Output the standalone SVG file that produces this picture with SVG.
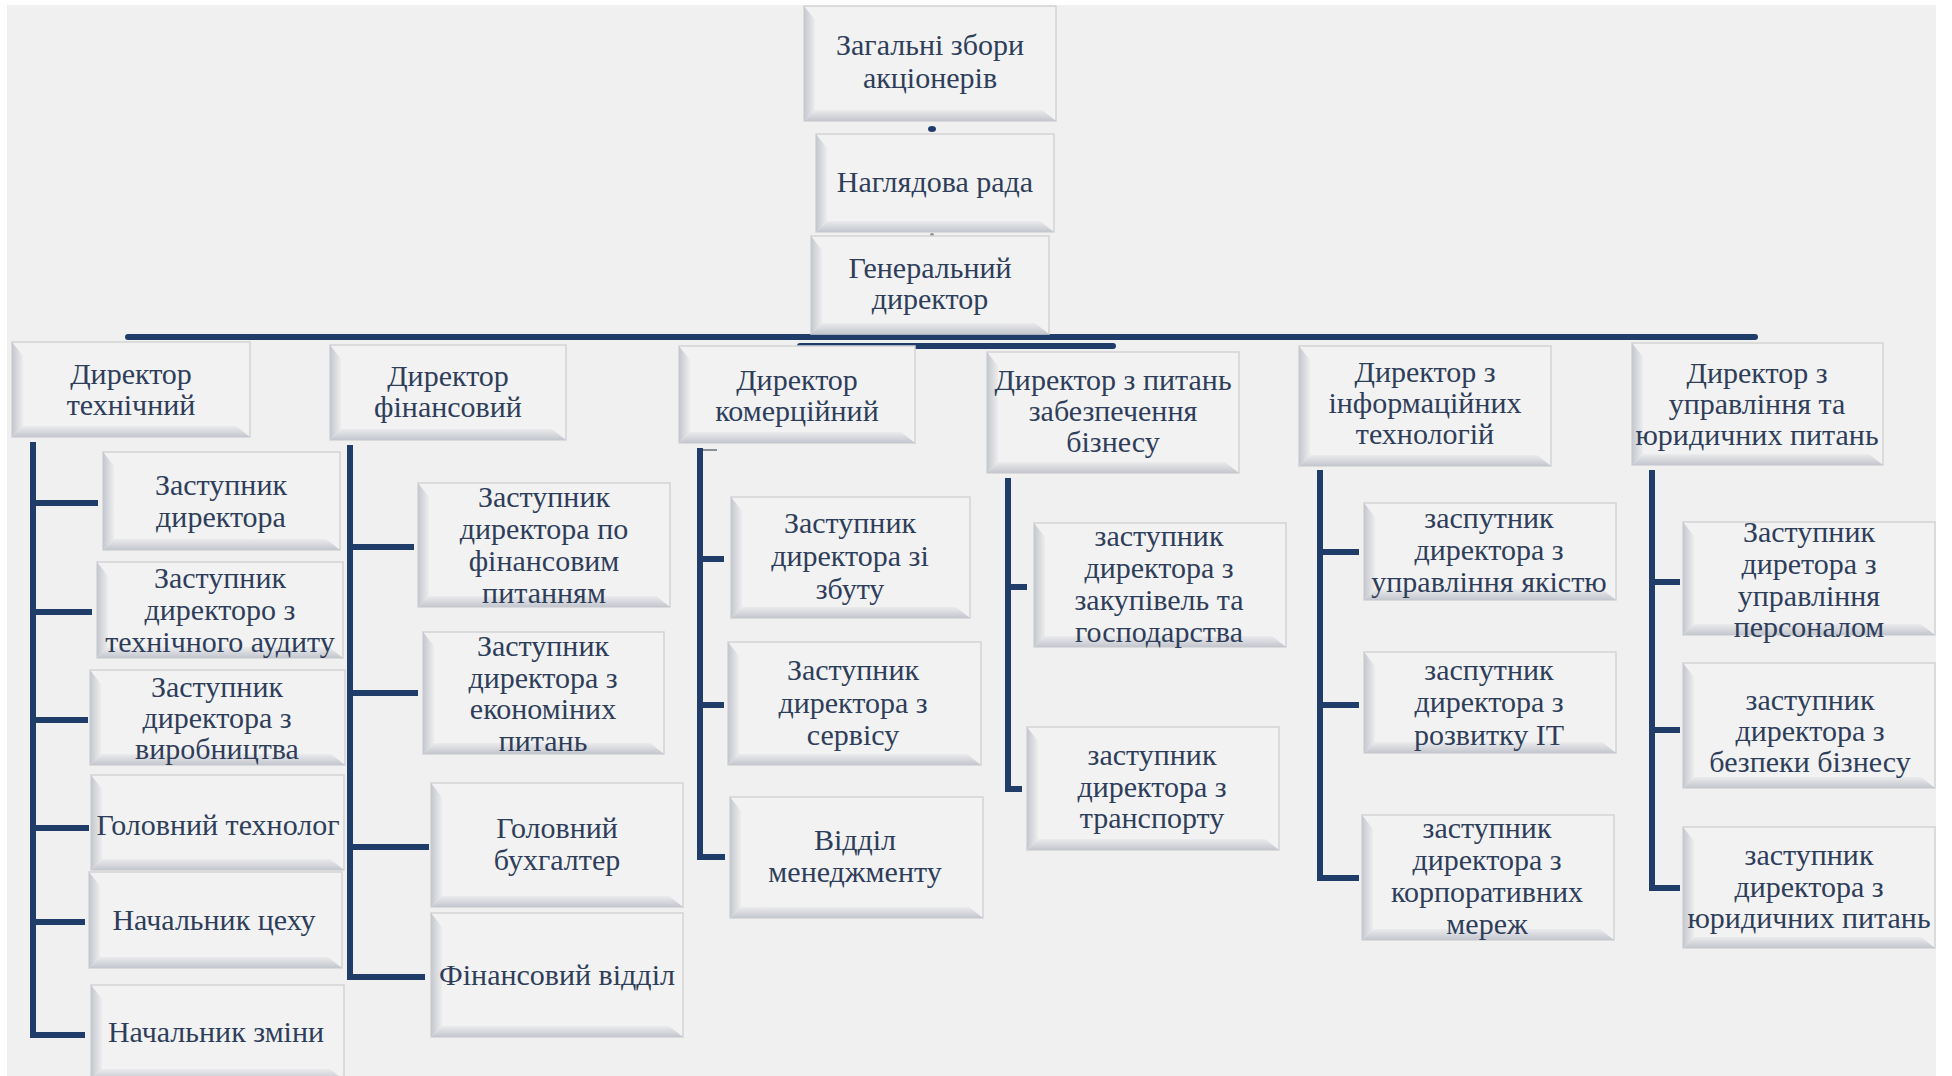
<svg xmlns="http://www.w3.org/2000/svg" width="1952" height="1076" viewBox="0 0 1952 1076">
<defs>
<linearGradient id="gL" x1="0" y1="0" x2="1" y2="0"><stop offset="0" stop-color="#c4c7cf"/><stop offset="1" stop-color="#eceded"/></linearGradient>
<linearGradient id="gB" x1="0" y1="0" x2="0" y2="1"><stop offset="0" stop-color="#ebebed"/><stop offset="1" stop-color="#c3c6ce"/></linearGradient>
<style>
.box{fill:#f2f2f2;stroke:#d3d3d3;stroke-width:1.5}
.bl{fill:url(#gL)}
.bb{fill:url(#gB)}
.t{font-family:'Liberation Serif','DejaVu Serif',serif;font-size:30px;fill:#2e3e5a;text-anchor:middle}
.ln{fill:none;stroke:#203c68;stroke-width:6;stroke-linejoin:miter;stroke-linecap:butt}
.bar{fill:none;stroke:#203c68;stroke-width:6;stroke-linecap:round}
</style>
</defs>
<rect x="0" y="0" width="1952" height="1076" fill="#ffffff"/>
<rect x="7" y="5" width="1929" height="1071" fill="#f0f0f0"/>

<g id="connectors">
<path class="bar" d="M128 337 H1755"/>
<path class="bar" d="M800 346 H1113"/>
<ellipse cx="932" cy="129" rx="4" ry="3" fill="#203c68"/>
<circle cx="932" cy="235" r="2" fill="#8a8f99"/>
<path class="ln" d="M33 442 V1035 H85 M33 503 H98 M33 612 H92 M33 720 H88 M33 828 H89 M33 922 H85"/>
<path class="ln" d="M350 445 V977 H425 M350 547 H414 M350 693 H418 M350 847 H429"/>
<path class="ln" d="M700 448 V857 H725 M700 559 H724 M700 705 H724"/>
<path d="M703 450 H717" stroke="#8a8f99" stroke-width="2" fill="none"/>
<path class="ln" d="M1008 478 V789 H1022 M1008 587 H1027"/>
<path class="ln" d="M1320 470 V878 H1359 M1320 552 H1359 M1320 705 H1359"/>
<path class="ln" d="M1652 470 V888 H1680 M1652 582 H1680 M1652 730 H1680"/>
</g>

<g id="n-zbory"><rect class="box" x="804" y="6" width="252" height="115"/><polygon class="bl" points="804,6 815,20 815,110 804,121"/><polygon class="bb" points="804,121 815,110 1042,110 1056,121"/><text class="t" x="930" y="55">Загальні збори</text><text class="t" x="930" y="88">акціонерів</text></g>
<g id="n-rada"><rect class="box" x="816" y="134" width="238" height="98"/><polygon class="bl" points="816,134 827,148 827,221 816,232"/><polygon class="bb" points="816,232 827,221 1040,221 1054,232"/><text class="t" x="935" y="192">Наглядова рада</text></g>
<g id="n-gendir"><rect class="box" x="811" y="236" width="238" height="98"/><polygon class="bl" points="811,236 822,250 822,323 811,334"/><polygon class="bb" points="811,334 822,323 1035,323 1049,334"/><text class="t" x="930" y="278">Генеральний</text><text class="t" x="930" y="309">директор</text></g>

<g id="d-tech"><rect class="box" x="12" y="342" width="238" height="95"/><polygon class="bl" points="12,342 23,356 23,426 12,437"/><polygon class="bb" points="12,437 23,426 236,426 250,437"/><text class="t" x="131" y="384">Директор</text><text class="t" x="131" y="415">технічний</text></g>
<g id="d-fin"><rect class="box" x="330" y="345" width="236" height="95"/><polygon class="bl" points="330,345 341,359 341,429 330,440"/><polygon class="bb" points="330,440 341,429 552,429 566,440"/><text class="t" x="448" y="386">Директор</text><text class="t" x="448" y="417">фінансовий</text></g>
<g id="d-kom"><rect class="box" x="679" y="346" width="236" height="97"/><polygon class="bl" points="679,346 690,360 690,432 679,443"/><polygon class="bb" points="679,443 690,432 901,432 915,443"/><text class="t" x="797" y="390">Директор</text><text class="t" x="797" y="421">комерційний</text></g>
<g id="d-biz"><rect class="box" x="987" y="352" width="252" height="121"/><polygon class="bl" points="987,352 998,366 998,462 987,473"/><polygon class="bb" points="987,473 998,462 1225,462 1239,473"/><text class="t" x="1113" y="390">Директор з питань</text><text class="t" x="1113" y="421">забезпечення</text><text class="t" x="1113" y="452">бізнесу</text></g>
<g id="d-it"><rect class="box" x="1299" y="346" width="252" height="120"/><polygon class="bl" points="1299,346 1310,360 1310,455 1299,466"/><polygon class="bb" points="1299,466 1310,455 1537,455 1551,466"/><text class="t" x="1425" y="382">Директор з</text><text class="t" x="1425" y="413">інформаційних</text><text class="t" x="1425" y="444">технологій</text></g>
<g id="d-law"><rect class="box" x="1632" y="343" width="251" height="122"/><polygon class="bl" points="1632,343 1643,357 1643,454 1632,465"/><polygon class="bb" points="1632,465 1643,454 1869,454 1883,465"/><text class="t" x="1757" y="383">Директор з</text><text class="t" x="1757" y="414">управління та</text><text class="t" x="1757" y="445">юридичних питань</text></g>

<g id="c1-zast"><rect class="box" x="103" y="452" width="237" height="98"/><polygon class="bl" points="103,452 114,466 114,539 103,550"/><polygon class="bb" points="103,550 114,539 326,539 340,550"/><text class="t" x="221" y="495">Заступник</text><text class="t" x="221" y="527">директора</text></g>
<g id="c1-audit"><rect class="box" x="97" y="562" width="246" height="96"/><polygon class="bl" points="97,562 108,576 108,647 97,658"/><polygon class="bb" points="97,658 108,647 329,647 343,658"/><text class="t" x="220" y="588">Заступник</text><text class="t" x="220" y="620">директоро з</text><text class="t" x="220" y="652">технічного аудиту</text></g>
<g id="c1-vyr"><rect class="box" x="90" y="670" width="255" height="95"/><polygon class="bl" points="90,670 101,684 101,754 90,765"/><polygon class="bb" points="90,765 101,754 331,754 345,765"/><text class="t" x="217" y="697">Заступник</text><text class="t" x="217" y="728">директора з</text><text class="t" x="217" y="759">виробництва</text></g>
<g id="c1-tehn"><rect class="box" x="91" y="775" width="253" height="95"/><polygon class="bl" points="91,775 102,789 102,859 91,870"/><polygon class="bb" points="91,870 102,859 330,859 344,870"/><text class="t" x="218" y="835">Головний технолог</text></g>
<g id="c1-tseh"><rect class="box" x="89" y="872" width="253" height="96"/><polygon class="bl" points="89,872 100,886 100,957 89,968"/><polygon class="bb" points="89,968 100,957 328,957 342,968"/><text class="t" x="214" y="930">Начальник цеху</text></g>
<g id="c1-zmin"><rect class="box" x="91" y="985" width="253" height="95"/><polygon class="bl" points="91,985 102,999 102,1069 91,1080"/><polygon class="bb" points="91,1080 102,1069 330,1069 344,1080"/><text class="t" x="216" y="1042">Начальник зміни</text></g>

<g id="c2-fin"><rect class="box" x="418" y="483" width="252" height="124"/><polygon class="bl" points="418,483 429,497 429,596 418,607"/><polygon class="bb" points="418,607 429,596 656,596 670,607"/><text class="t" x="544" y="507">Заступник</text><text class="t" x="544" y="539">директора по</text><text class="t" x="544" y="571">фінансовим</text><text class="t" x="544" y="603">питанням</text></g>
<g id="c2-ekon"><rect class="box" x="423" y="632" width="241" height="122"/><polygon class="bl" points="423,632 434,646 434,743 423,754"/><polygon class="bb" points="423,754 434,743 650,743 664,754"/><text class="t" x="543" y="656">Заступник</text><text class="t" x="543" y="688">директора з</text><text class="t" x="543" y="719">економіних</text><text class="t" x="543" y="751">питань</text></g>
<g id="c2-buh"><rect class="box" x="431" y="783" width="252" height="124"/><polygon class="bl" points="431,783 442,797 442,896 431,907"/><polygon class="bb" points="431,907 442,896 669,896 683,907"/><text class="t" x="557" y="838">Головний</text><text class="t" x="557" y="870">бухгалтер</text></g>
<g id="c2-vid"><rect class="box" x="431" y="913" width="252" height="124"/><polygon class="bl" points="431,913 442,927 442,1026 431,1037"/><polygon class="bb" points="431,1037 442,1026 669,1026 683,1037"/><text class="t" x="557" y="985">Фінансовий відділ</text></g>

<g id="c3-zbut"><rect class="box" x="731" y="497" width="239" height="121"/><polygon class="bl" points="731,497 742,511 742,607 731,618"/><polygon class="bb" points="731,618 742,607 956,607 970,618"/><text class="t" x="850" y="533">Заступник</text><text class="t" x="850" y="566">директора зі</text><text class="t" x="850" y="599">збуту</text></g>
<g id="c3-serv"><rect class="box" x="728" y="642" width="253" height="123"/><polygon class="bl" points="728,642 739,656 739,754 728,765"/><polygon class="bb" points="728,765 739,754 967,754 981,765"/><text class="t" x="853" y="680">Заступник</text><text class="t" x="853" y="713">директора з</text><text class="t" x="853" y="745">сервісу</text></g>
<g id="c3-men"><rect class="box" x="730" y="797" width="253" height="121"/><polygon class="bl" points="730,797 741,811 741,907 730,918"/><polygon class="bb" points="730,918 741,907 969,907 983,918"/><text class="t" x="855" y="850">Відділ</text><text class="t" x="855" y="882">менеджменту</text></g>

<g id="c4-zak"><rect class="box" x="1034" y="523" width="252" height="124"/><polygon class="bl" points="1034,523 1045,537 1045,636 1034,647"/><polygon class="bb" points="1034,647 1045,636 1272,636 1286,647"/><text class="t" x="1159" y="546">заступник</text><text class="t" x="1159" y="578">директора з</text><text class="t" x="1159" y="610">закупівель та</text><text class="t" x="1159" y="642">господарства</text></g>
<g id="c4-trans"><rect class="box" x="1027" y="727" width="252" height="123"/><polygon class="bl" points="1027,727 1038,741 1038,839 1027,850"/><polygon class="bb" points="1027,850 1038,839 1265,839 1279,850"/><text class="t" x="1152" y="765">заступник</text><text class="t" x="1152" y="797">директора з</text><text class="t" x="1152" y="828">транспорту</text></g>

<g id="c5-yak"><rect class="box" x="1364" y="503" width="252" height="97"/><polygon class="bl" points="1364,503 1375,517 1375,589 1364,600"/><polygon class="bb" points="1364,600 1375,589 1602,589 1616,600"/><text class="t" x="1489" y="528">заспутник</text><text class="t" x="1489" y="560">директора з</text><text class="t" x="1489" y="592">управління якістю</text></g>
<g id="c5-it"><rect class="box" x="1364" y="652" width="252" height="101"/><polygon class="bl" points="1364,652 1375,666 1375,742 1364,753"/><polygon class="bb" points="1364,753 1375,742 1602,742 1616,753"/><text class="t" x="1489" y="680">заспутник</text><text class="t" x="1489" y="712">директора з</text><text class="t" x="1489" y="745">розвитку IT</text></g>
<g id="c5-mer"><rect class="box" x="1362" y="815" width="252" height="125"/><polygon class="bl" points="1362,815 1373,829 1373,929 1362,940"/><polygon class="bb" points="1362,940 1373,929 1600,929 1614,940"/><text class="t" x="1487" y="838">заступник</text><text class="t" x="1487" y="870">директора з</text><text class="t" x="1487" y="902">корпоративних</text><text class="t" x="1487" y="934">мереж</text></g>

<g id="c6-pers"><rect class="box" x="1683" y="522" width="252" height="113"/><polygon class="bl" points="1683,522 1694,536 1694,624 1683,635"/><polygon class="bb" points="1683,635 1694,624 1921,624 1935,635"/><text class="t" x="1809" y="542">Заступник</text><text class="t" x="1809" y="574">диретора з</text><text class="t" x="1809" y="606">управління</text><text class="t" x="1809" y="637">персоналом</text></g>
<g id="c6-bezp"><rect class="box" x="1683" y="663" width="252" height="125"/><polygon class="bl" points="1683,663 1694,677 1694,777 1683,788"/><polygon class="bb" points="1683,788 1694,777 1921,777 1935,788"/><text class="t" x="1810" y="710">заступник</text><text class="t" x="1810" y="741">директора з</text><text class="t" x="1810" y="772">безпеки бізнесу</text></g>
<g id="c6-yur"><rect class="box" x="1683" y="827" width="252" height="121"/><polygon class="bl" points="1683,827 1694,841 1694,937 1683,948"/><polygon class="bb" points="1683,948 1694,937 1921,937 1935,948"/><text class="t" x="1809" y="865">заступник</text><text class="t" x="1809" y="897">директора з</text><text class="t" x="1809" y="928">юридичних питань</text></g>
</svg>
